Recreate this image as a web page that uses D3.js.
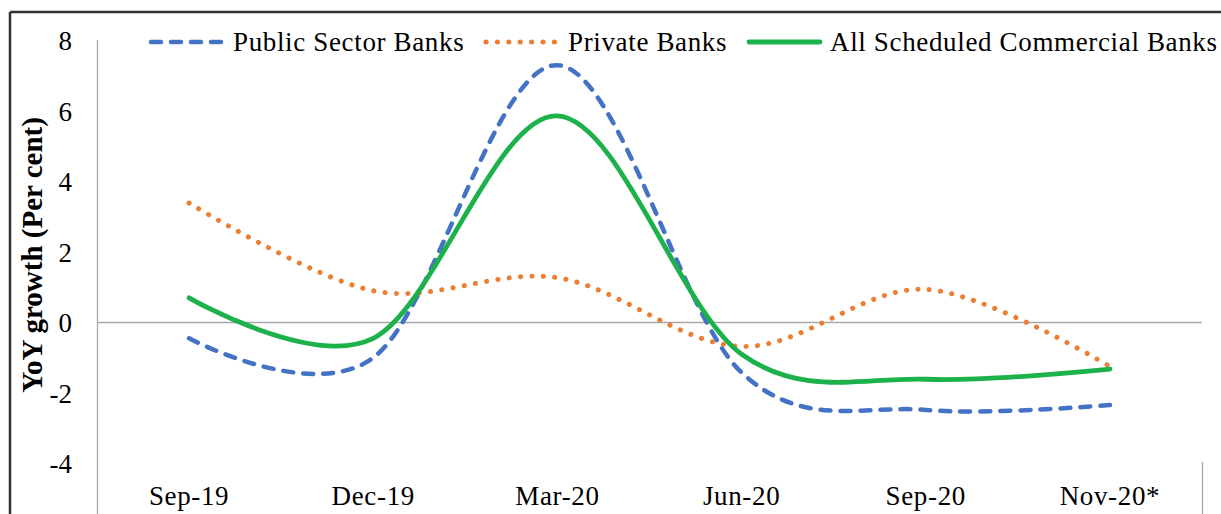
<!DOCTYPE html>
<html><head><meta charset="utf-8">
<script src="https://cdn.jsdelivr.net/npm/d3@7"></script>
<style>body{margin:0;background:#fff}svg{display:block}text{font-family:"Liberation Serif","Times New Roman",serif}</style>
</head><body><svg id="c" width="1221" height="514"></svg>
<script>
const categories = ["Sep-19","Dec-19","Mar-20","Jun-20","Sep-20","Nov-20*"];
const publicSector = [-0.45,-1.0,7.3,-1.42,-2.48,-2.34];
const privateBanks = [3.39,0.9,1.27,-0.68,0.94,-1.25];
const allScheduled = [0.70,-0.45,5.86,-0.9,-1.61,-1.32];
const yTicks = [-4,-2,0,2,4,6,8];
const seriesNames = ["Public Sector Banks","Private Banks","All Scheduled Commercial Banks"];

const svg = d3.select("#c");
// outer border
svg.append("line").attr("x1",10).attr("x2",1221).attr("y1",12).attr("y2",12).attr("stroke","#333").attr("stroke-width",2.5);
svg.append("line").attr("x1",10).attr("x2",10).attr("y1",12).attr("y2",514).attr("stroke","#333").attr("stroke-width",2.5);

const x = d3.scaleBand().domain(categories).range([97,1202]).paddingInner(0).paddingOuter(0);
const cx = d => x(d) + x.bandwidth()/2;
const y = d3.scaleLinear().domain([-4,8]).range([463.5,40.5]);

// axis lines
svg.append("line").attr("x1",97.5).attr("x2",97.5).attr("y1",40).attr("y2",514).attr("stroke","#a6a6a6").attr("stroke-width",1.3);
svg.append("line").attr("x1",1202.5).attr("x2",1202.5).attr("y1",462).attr("y2",514).attr("stroke","#a6a6a6").attr("stroke-width",1.3);
svg.append("line").attr("x1",97).attr("x2",1202).attr("y1",y(0)).attr("y2",y(0)).attr("stroke","#a6a6a6").attr("stroke-width",1.3);

const FS = 27, LS = 0.65;
// y tick labels
const yAxis = d3.axisLeft(y).tickValues(yTicks).tickSize(0).tickPadding(0).tickFormat(d => String(d));
const ga = svg.append("g").attr("transform","translate(72,0)").call(yAxis);
ga.select(".domain").remove();
ga.selectAll("text").attr("font-size",FS).attr("fill","#000").attr("dy","0.34em");

// x labels
const xAxis = d3.axisBottom(x).tickSize(0).tickPadding(0);
const gx = svg.append("g").attr("transform","translate(0,486)").call(xAxis);
gx.select(".domain").remove();
gx.selectAll("text").attr("font-size",FS).attr("letter-spacing",LS).attr("fill","#000").attr("dy","0.71em");

// y title
svg.append("text").attr("transform","translate(42,255) rotate(-90)").attr("text-anchor","middle")
  .attr("font-size",29).attr("font-weight","bold").text("YoY growth (Per cent)");

const line = d3.line().x((d,i)=>cx(categories[i])).y(d=>y(d)).curve(d3.curveCardinal.tension(0));

const styles = [
  {data: publicSector, color:"#4472C4", width:4.5, dash:"10,10", cap:"round"},
  {data: privateBanks, color:"#ED7D31", width:5, dash:"0.1,11.3", cap:"round"},
  {data: allScheduled, color:"#1DB14B", width:4.8, dash:null, cap:"round"}
];
styles.forEach(s=>{
  svg.append("path").datum(s.data).attr("d",line).attr("fill","none")
    .attr("stroke",s.color).attr("stroke-width",s.width)
    .attr("stroke-dasharray",s.dash).attr("stroke-linecap",s.cap).attr("stroke-linejoin","round");
});

// legend
const leg = [
  {x1:151,x2:222,tx:233},
  {x1:486,x2:556,tx:568},
  {x1:749,x2:820,tx:830}
];
leg.forEach((l,i)=>{
  const s = styles[i];
  svg.append("line").attr("x1",l.x1).attr("x2",l.x2).attr("y1",42).attr("y2",42)
    .attr("stroke",s.color).attr("stroke-width",s.width).attr("stroke-dasharray",s.dash).attr("stroke-linecap",s.cap);
  svg.append("text").attr("x",l.tx).attr("y",51).attr("font-size",FS).attr("letter-spacing",LS).attr("fill","#000").text(seriesNames[i]);
});
</script></body></html>
